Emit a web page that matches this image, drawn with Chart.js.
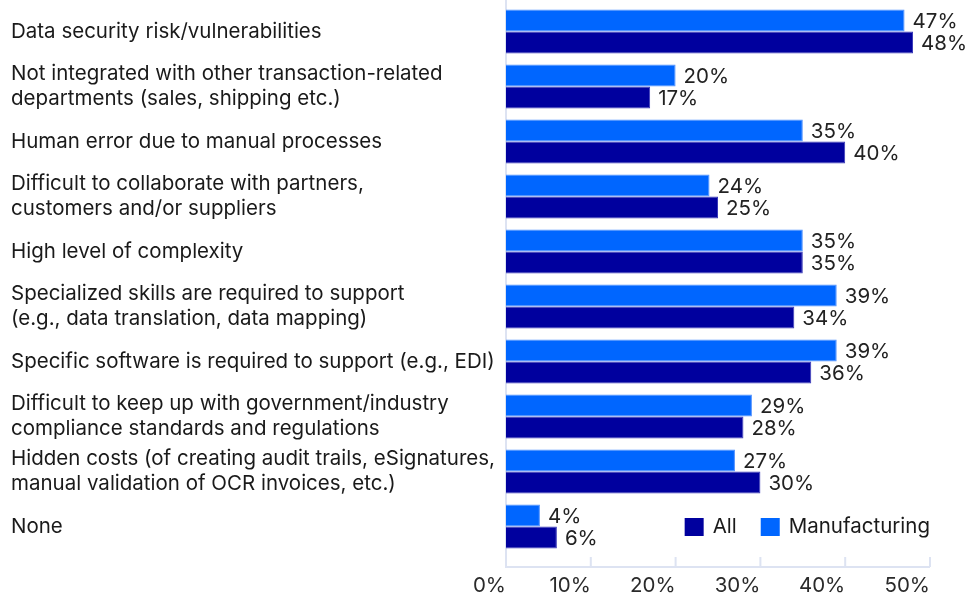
<!DOCTYPE html>
<html lang="en">
<head>
<meta charset="utf-8">
<title>Challenges</title>
<script src="https://cdn.jsdelivr.net/npm/chart.js@4.4.1/dist/chart.umd.min.js"></script>
<style>
  html, body { margin: 0; padding: 0; background: #fff; }
  #wrap { width: 978px; height: 598px; }
</style>
</head>
<body>
<div id="wrap"><canvas id="challengesChart" width="978" height="598"></canvas></div>
<script>
const categories = [
  "Data security risk/vulnerabilities",
  ["Not integrated with other transaction-related", "departments (sales, shipping etc.)"],
  "Human error due to manual processes",
  ["Difficult to collaborate with partners,", "customers and/or suppliers"],
  "High level of complexity",
  ["Specialized skills are required to support", "(e.g., data translation, data mapping)"],
  "Specific software is required to support (e.g., EDI)",
  ["Difficult to keep up with government/industry", "compliance standards and regulations"],
  ["Hidden costs (of creating audit trails, eSignatures,", "manual validation of OCR invoices, etc.)"],
  "None"
];
const manufacturing = [47, 20, 35, 24, 35, 39, 39, 29, 27, 4];
const allRespondents = [48, 17, 40, 25, 35, 34, 36, 28, 30, 6];
const xTicks = [0, 10, 20, 30, 40, 50];

const FONT = "Inter, 'Noto Sans', sans-serif";
const FONT_SIZE = 20.5;
const AXIS_COLOR = "#dde3f2";

// axis lines with short tick marks pointing up, a bit below the bars
const axisPlugin = {
  id: "axisLines",
  beforeDatasetsDraw(chart) {
    const { ctx, chartArea, scales } = chart;
    const axisY = chartArea.bottom + 13;
    ctx.save();
    ctx.strokeStyle = AXIS_COLOR;
    ctx.lineWidth = 2;
    ctx.beginPath();
    ctx.moveTo(chartArea.left, 0);
    ctx.lineTo(chartArea.left, axisY);
    ctx.lineTo(chartArea.right, axisY);
    scales.x.ticks.forEach(t => {
      const x = scales.x.getPixelForValue(t.value);
      ctx.moveTo(x, axisY);
      ctx.lineTo(x, axisY - 10);
    });
    ctx.stroke();
    ctx.restore();
  }
};

// percentage labels at the end of each bar
const valueLabels = {
  id: "valueLabels",
  afterDatasetsDraw(chart) {
    const { ctx } = chart;
    ctx.save();
    ctx.font = FONT_SIZE + "px " + FONT;
    ctx.fillStyle = "#222";
    ctx.textAlign = "left";
    ctx.textBaseline = "middle";
    chart.data.datasets.forEach((ds, i) => {
      chart.getDatasetMeta(i).data.forEach((bar, j) => {
        ctx.fillText(ds.data[j] + "%", bar.x + 8, bar.y + 1);
      });
    });
    ctx.restore();
  }
};

// legend sits inside the plot, bottom right
const innerLegend = {
  id: "innerLegend",
  afterDraw(chart) {
    const { ctx, chartArea } = chart;
    const items = chart.data.datasets.slice().reverse();
    const box = 19, gapText = 9, gapItem = 24;
    ctx.save();
    ctx.font = FONT_SIZE + "px " + FONT;
    ctx.textBaseline = "middle";
    ctx.textAlign = "left";
    let total = 0;
    items.forEach((ds, i) => {
      total += box + gapText + ctx.measureText(ds.label).width;
      if (i < items.length - 1) total += gapItem;
    });
    let x = chartArea.right - total;
    const y = 527;
    items.forEach(ds => {
      ctx.fillStyle = ds.backgroundColor;
      ctx.fillRect(x, y - 9, box, 18);
      x += box + gapText;
      ctx.fillStyle = "#1a1a1a";
      ctx.fillText(ds.label, x, y);
      x += ctx.measureText(ds.label).width + gapItem;
    });
    ctx.restore();
  }
};

new Chart(document.getElementById("challengesChart"), {
  type: "bar",
  data: {
    labels: categories,
    datasets: [
      {
        label: "Manufacturing",
        data: manufacturing,
        backgroundColor: "#0066ff",
        borderColor: "#4d8fff",
        borderWidth: 1
      },
      {
        label: "All",
        data: allRespondents,
        backgroundColor: "#00009e",
        borderColor: "#3838b8",
        borderWidth: 1
      }
    ]
  },
  options: {
    indexAxis: "y",
    responsive: false,
    animation: false,
    categoryPercentage: 0.8,
    barPercentage: 1,
    layout: { padding: { left: 11, right: 48, top: 4, bottom: 0 } },
    plugins: {
      legend: { display: false },
      tooltip: { enabled: false }
    },
    scales: {
      y: {
        grid: { display: false, drawTicks: false },
        border: { display: false },
        ticks: {
          crossAlign: "far",
          color: "#1a1a1a",
          font: { family: FONT, size: FONT_SIZE, lineHeight: 1.22 }
        },
        afterFit(scale) {
          scale.width = 495;
          scale.paddingTop = 0;
          scale.paddingBottom = 0;
        }
      },
      x: {
        min: 0,
        max: 50,
        grid: { display: false, drawTicks: false },
        border: { display: false },
        afterBuildTicks(scale) { scale.ticks = xTicks.map(v => ({ value: v })); },
        ticks: {
          align: "end",
          padding: 20,
          color: "#2a2a2a",
          font: { family: FONT, size: FONT_SIZE },
          callback: v => v + "%"
        },
        afterFit(scale) {
          scale.height = 44;
          scale.paddingLeft = 0;
          scale.paddingRight = 0;
        }
      }
    }
  },
  plugins: [axisPlugin, valueLabels, innerLegend]
});
</script>
</body>
</html>
